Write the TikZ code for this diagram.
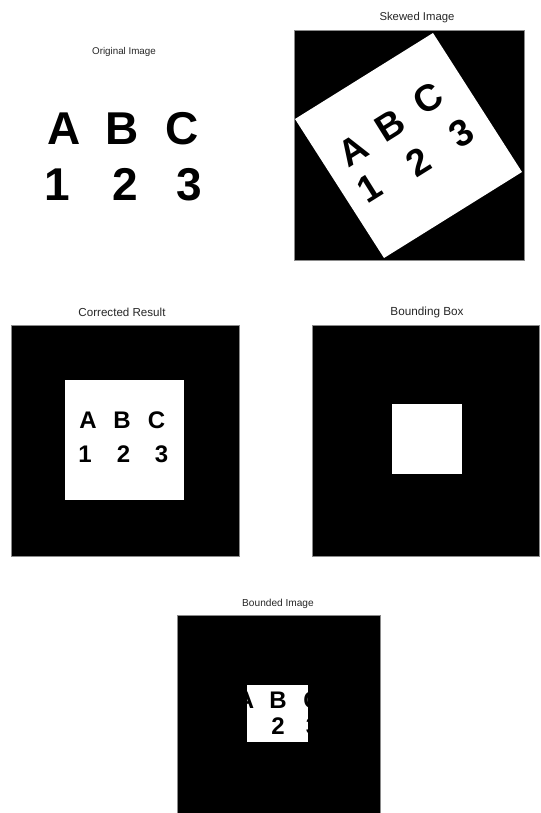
\documentclass[tikz,border=0pt]{standalone}
\usepackage{fontspec}
\setmainfont{Liberation Sans}
\usepackage{xcolor}
\definecolor{figtext}{HTML}{262626}
\definecolor{axisgray}{HTML}{8A8A8A}
\tikzset{
panel/.style={
	fill=black,
	draw=axisgray,
	line width=0.5pt
},
paper/.style={fill=white},
title/.style={inner sep=0pt, text=figtext, font=\fontsize{#1}{#1}\selectfont},
glyph/.style={inner sep=0pt, text=black, font=\bfseries\fontsize{#1}{#1}\selectfont}
}
\begin{document}
\begin{tikzpicture}[x=0.75pt,y=-0.75pt]
% pixel grid of the figure: 540 x 813, y runs downwards
\useasboundingbox (0,0) rectangle (540,813);

% ── Panel 1: original image (no axes frame) ────────────────────
\node[title=7.35] (origTitle) at (124,52) {Original Image};
\node[glyph=34.5] (origA) at (64,129) {A};
\node[glyph=34.5] (origB) at (122,129) {B};
\node[glyph=34.5] (origC) at (182,129) {C};
\node[glyph=34.5] (orig1) at (57,184.5) {1};
\node[glyph=34.5] (orig2) at (125.5,184.5) {2};
\node[glyph=34.5] (orig3) at (189.5,184.5) {3};

% ── Panel 2: skewed image ──────────────────────────────────────
\node[title=8.5] (skewTitle) at (417,18) {Skewed Image};
\begin{scope}
\clip (294,30) rectangle (524,260);
\fill[black] (294,30) rectangle (524,260);
\fill[paper] (433,33) -- (522,172) -- (384,258) -- (295,119) -- cycle;
\node[glyph=28,rotate=32] (skewA) at (353,150) {A};
\node[glyph=28,rotate=32] (skewB) at (390,125) {B};
\node[glyph=28,rotate=32] (skewC) at (428,98) {C};
\node[glyph=28,rotate=32] (skew1) at (369,188) {1};
\node[glyph=28,rotate=32] (skew2) at (418,162) {2};
\node[glyph=28,rotate=32] (skew3) at (462,133) {3};
\end{scope}
\draw[axisgray,line width=0.5pt] (294,30) rectangle (524,260);

% ── Panel 3: corrected result ──────────────────────────────────
\node[title=8.7] (corrTitle) at (122,312) {Corrected Result};
\draw[panel] (11,325) rectangle (239,556);
\fill[paper] (65,380) rectangle (184,500);
\node[glyph=18] (corrA) at (88,420) {A};
\node[glyph=18] (corrB) at (122,420) {B};
\node[glyph=18] (corrC) at (156.5,420) {C};
\node[glyph=18] (corr1) at (85,454) {1};
\node[glyph=18] (corr2) at (123.5,454) {2};
\node[glyph=18] (corr3) at (161.5,454) {3};

% ── Panel 4: bounding box mask ─────────────────────────────────
\node[title=8.8] (bboxTitle) at (427,312) {Bounding Box};
\draw[panel] (312,325) rectangle (539,556);
\fill[paper] (392,404) rectangle (462,474);

% ── Panel 5: bounded image (crop of the corrected letters) ─────
\node[title=7.6] (bndTitle) at (278,604) {Bounded Image};
\draw[panel] (177,615) rectangle (380,818);
\begin{scope}
\clip (247,685) rectangle (308,742);
\fill[paper] (247,685) rectangle (308,742);
\node[glyph=18] (bndA) at (245.5,700.5) {A};
\node[glyph=18] (bndB) at (278,700.5) {B};
\node[glyph=18] (bndC) at (312,700.5) {C};
\node[glyph=18] (bnd1) at (239,726.5) {1};
\node[glyph=18] (bnd2) at (278,726.5) {2};
\node[glyph=18] (bnd3) at (312.5,726.5) {3};
\end{scope}
\end{tikzpicture}
\end{document}
